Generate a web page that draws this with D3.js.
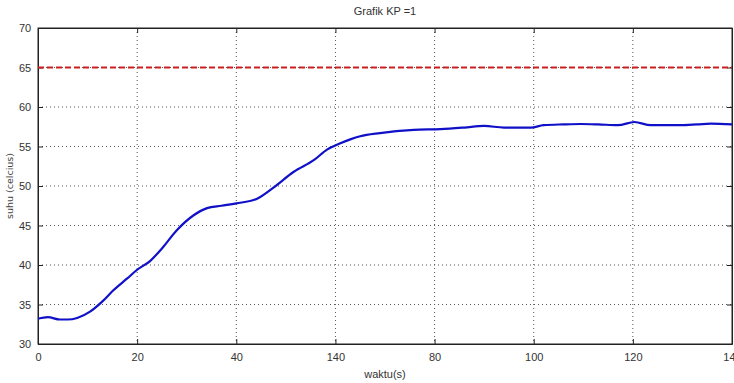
<!DOCTYPE html>
<html><head><meta charset="utf-8">
<script src="https://cdn.jsdelivr.net/npm/d3@7"></script>
<style>body{margin:0;background:#fff}svg{display:block}</style>
</head><body>
<svg id="c" width="734" height="383"></svg>
<script>
const title = "Grafik KP =1";
const xLabel = "waktu(s)";
const yLabel = "suhu (celcius)";
const xTickValues = [0, 20, 40, 60, 80, 100, 120, 140];
const xTickLabels = ["0", "20", "40", "140", "80", "100", "120", "140"];
const yTickValues = [30, 35, 40, 45, 50, 55, 60, 65, 70];
const setpoint = 65;
const time = [0, 2, 4.4, 6, 7.9, 10.5, 13, 15.2, 18, 20, 22.6, 25, 28, 31.4, 34.1, 37, 40, 44.2, 47.5, 51.6, 55.7, 58.3, 61, 63, 65, 69, 75.8, 81.2, 86, 90, 94, 99.4, 102, 106, 109.5, 113, 117, 120.3, 123.6, 127, 129.7, 133, 135.8, 140];
const temp = [33.2, 33.4, 33.1, 33.1, 33.3, 34.1, 35.4, 36.8, 38.3, 39.4, 40.5, 42.1, 44.4, 46.3, 47.2, 47.5, 47.8, 48.4, 49.8, 51.8, 53.3, 54.6, 55.4, 55.9, 56.3, 56.7, 57.1, 57.2, 57.4, 57.6, 57.4, 57.4, 57.7, 57.8, 57.85, 57.8, 57.7, 58.1, 57.7, 57.7, 57.7, 57.8, 57.9, 57.8];

const svg = d3.select("#c");
const m = {l: 38, r: 732, t: 28, b: 344};
const x = d3.scaleLinear().domain([0, 140]).range([m.l, m.r]);
const y = d3.scaleLinear().domain([30, 70]).range([m.b, m.t]);
const font = "'Liberation Sans Narrow', 'Liberation Sans', Arial, sans-serif";

// grid
svg.append("g").selectAll("line").data(xTickValues.slice(1, -1)).join("line")
  .attr("x1", d => x(d)).attr("x2", d => x(d)).attr("y1", m.t).attr("y2", m.b)
  .attr("stroke", "#555").attr("stroke-width", 1).attr("stroke-dasharray", "1,3");
svg.append("g").selectAll("line").data(yTickValues.slice(1, -1)).join("line")
  .attr("y1", d => y(d)).attr("y2", d => y(d)).attr("x1", m.l).attr("x2", m.r)
  .attr("stroke", "#555").attr("stroke-width", 1).attr("stroke-dasharray", "1,3");

// box
svg.append("rect").attr("x", m.l).attr("y", m.t).attr("width", m.r - m.l).attr("height", m.b - m.t)
  .attr("fill", "none").attr("stroke", "#222").attr("stroke-width", 1);

// axes
const xAxis = d3.axisBottom(x).tickValues(xTickValues).tickFormat((d, i) => xTickLabels[i]).tickSizeInner(-5).tickSizeOuter(0).tickPadding(9);
const gx = svg.append("g").attr("transform", `translate(0,${m.b})`).call(xAxis);
const yAxis = d3.axisLeft(y).tickValues(yTickValues).tickSizeInner(-5).tickSizeOuter(0).tickPadding(9);
const gy = svg.append("g").attr("transform", `translate(${m.l},0)`).call(yAxis);
svg.append("g").attr("transform", `translate(0,${m.t})`).call(d3.axisTop(x).tickValues(xTickValues).tickFormat("").tickSizeInner(-5).tickSizeOuter(0));
svg.append("g").attr("transform", `translate(${m.r},0)`).call(d3.axisRight(y).tickValues(yTickValues).tickFormat("").tickSizeInner(-5).tickSizeOuter(0));
svg.selectAll(".domain").attr("stroke", "#222");
svg.selectAll(".tick line").attr("stroke", "#222");
svg.selectAll(".tick text").attr("font-family", font).attr("font-size", 11).attr("fill", "#333");
gy.selectAll(".tick text").attr("dx", "0.2em");

// setpoint
svg.append("line").attr("x1", x(0)).attr("x2", x(140)).attr("y1", y(setpoint)).attr("y2", y(setpoint))
  .attr("stroke", "#cc1f1f").attr("stroke-width", 2).attr("stroke-dasharray", "6,3");

// response
const line = d3.line().x((d, i) => x(time[i])).y(d => y(d)).curve(d3.curveMonotoneX);
svg.append("path").datum(temp).attr("d", line).attr("fill", "none")
  .attr("stroke", "#1010c8").attr("stroke-width", 2.2);

// labels
svg.append("text").attr("x", (m.l + m.r) / 2).attr("y", 15).attr("text-anchor", "middle")
  .attr("font-family", font).attr("font-size", 11).attr("fill", "#333").text(title);
svg.append("text").attr("x", (m.l + m.r) / 2).attr("y", 378).attr("text-anchor", "middle")
  .attr("font-family", font).attr("font-size", 11).attr("fill", "#333").text(xLabel);
svg.append("text").attr("transform", `translate(13,${(m.t + m.b) / 2}) rotate(-90)`).attr("text-anchor", "middle")
  .attr("font-family", "'DejaVu Sans', sans-serif").attr("font-size", 9.5).attr("fill", "#444").text(yLabel);
</script>
</body></html>
